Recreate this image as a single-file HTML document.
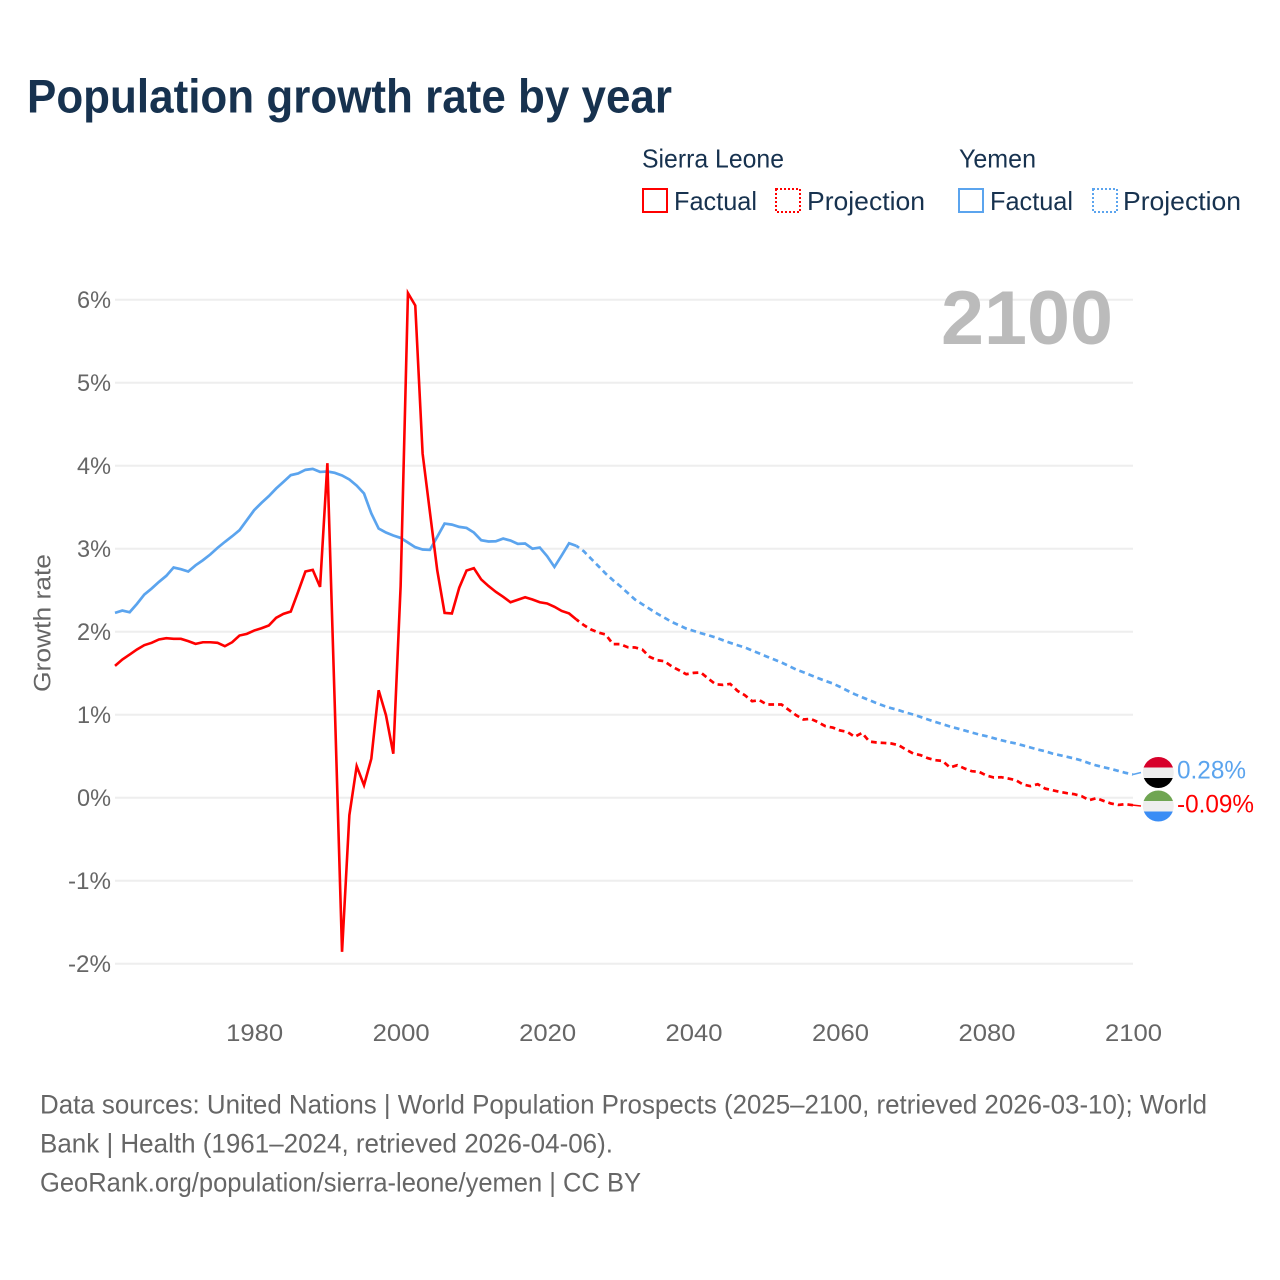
<!DOCTYPE html>
<html lang="en">
<head>
<meta charset="utf-8">
<title>Population growth rate by year</title>
<style>
html,body{margin:0;padding:0;background:#fff;}
svg{display:block;font-family:"Liberation Sans",sans-serif;}
</style>
</head>
<body>
<svg id="chart" width="1280" height="1280" viewBox="0 0 1280 1280" xmlns="http://www.w3.org/2000/svg">
  <defs>
    <clipPath id="clip-yemen"><circle cx="1158.3" cy="772.5" r="15.5"/></clipPath>
    <clipPath id="clip-sl"><circle cx="1158.3" cy="806" r="15.5"/></clipPath>
  </defs>
  <rect x="0" y="0" width="1280" height="1280" fill="#fff"/>
  <text x="27" y="112.5" font-size="47" font-weight="700" fill="#17324f" textLength="645" lengthAdjust="spacingAndGlyphs">Population growth rate by year</text>

  <g font-size="26" fill="#17324f">
    <text x="642" y="167.5" textLength="142" lengthAdjust="spacingAndGlyphs">Sierra Leone</text>
    <text x="959" y="167.5" textLength="77" lengthAdjust="spacingAndGlyphs">Yemen</text>
    <rect x="643" y="189" width="24" height="23" fill="none" stroke="#ff0000" stroke-width="2"/>
    <text x="674" y="210" textLength="83" lengthAdjust="spacingAndGlyphs">Factual</text>
    <rect x="776" y="189" width="24" height="23" fill="none" stroke="#ff0000" stroke-width="2" stroke-dasharray="2 2"/>
    <text x="807" y="210" textLength="118" lengthAdjust="spacingAndGlyphs">Projection</text>
    <rect x="959" y="189" width="24" height="23" fill="none" stroke="#5ba4ee" stroke-width="2"/>
    <text x="990" y="210" textLength="83" lengthAdjust="spacingAndGlyphs">Factual</text>
    <rect x="1093" y="189" width="24" height="23" fill="none" stroke="#5ba4ee" stroke-width="2" stroke-dasharray="2 2"/>
    <text x="1123" y="210" textLength="118" lengthAdjust="spacingAndGlyphs">Projection</text>
  </g>

  <g id="grid"></g>
  <g id="y-ticks" font-size="24" fill="#666"></g>
  <g id="x-ticks" font-size="24" fill="#666"></g>
  <text transform="translate(50.5,692) rotate(-90)" x="0" y="0" font-size="24" fill="#666" textLength="138" lengthAdjust="spacingAndGlyphs">Growth rate</text>

  <text x="1113" y="344" text-anchor="end" font-size="76" font-weight="700" fill="#bbbbbb" textLength="172" lengthAdjust="spacingAndGlyphs">2100</text>

  <g id="series"></g>

  <g clip-path="url(#clip-yemen)">
    <rect x="1142" y="757" width="33" height="11" fill="#d7002a"/>
    <rect x="1142" y="767.5" width="33" height="10.5" fill="#eeeeee"/>
    <rect x="1142" y="778" width="33" height="11" fill="#000000"/>
  </g>
  <g clip-path="url(#clip-sl)">
    <rect x="1142" y="790" width="33" height="11" fill="#6fa552"/>
    <rect x="1142" y="801" width="33" height="10.5" fill="#eeeeee"/>
    <rect x="1142" y="811.5" width="33" height="11" fill="#3a8df5"/>
  </g>
  <text x="1177" y="778.5" font-size="25" fill="#5ba4ee" textLength="69" lengthAdjust="spacingAndGlyphs">0.28%</text>
  <text x="1177" y="812.5" font-size="25" fill="#ff0000" textLength="77" lengthAdjust="spacingAndGlyphs">-0.09%</text>

  <g font-size="27" fill="#666">
    <text x="40" y="1113.5" textLength="1167" lengthAdjust="spacingAndGlyphs">Data sources: United Nations | World Population Prospects (2025–2100, retrieved 2026-03-10); World</text>
    <text x="40" y="1152.5" textLength="573" lengthAdjust="spacingAndGlyphs">Bank | Health (1961–2024, retrieved 2026-04-06).</text>
    <text x="40" y="1191.5" textLength="601" lengthAdjust="spacingAndGlyphs">GeoRank.org/population/sierra-leone/yemen | CC BY</text>
  </g>
</svg>
<script>
const factualStartYear = 1961;
const projectionStartYear = 2024;
const yTickValues = [6, 5, 4, 3, 2, 1, 0, -1, -2];
const yTickLabels = ["6%", "5%", "4%", "3%", "2%", "1%", "0%", "-1%", "-2%"];
const xTickYears = [1980, 2000, 2020, 2040, 2060, 2080, 2100];
const xTickLabels = ["1980", "2000", "2020", "2040", "2060", "2080", "2100"];

const sierraLeoneFactual = [
  1.588, 1.665, 1.725, 1.786, 1.838, 1.866, 1.906, 1.922, 1.914, 1.914,
  1.886, 1.853, 1.873, 1.873, 1.866, 1.825, 1.873, 1.954, 1.974, 2.014,
  2.042, 2.075, 2.167, 2.215, 2.243, 2.48, 2.725, 2.745, 2.54, 4.03,
  1.14, -1.857, -0.21, 0.38, 0.15, 0.47, 1.295, 0.994, 0.53, 2.55,
  6.08, 5.93, 4.147, 3.44, 2.74, 2.227, 2.22, 2.53, 2.737, 2.765,
  2.63, 2.55, 2.48, 2.42, 2.355, 2.385, 2.415, 2.388, 2.355, 2.34,
  2.30, 2.25, 2.22, 2.147
];
const yemenFactual = [
  2.227, 2.255, 2.235, 2.335, 2.448, 2.52, 2.6, 2.673, 2.773, 2.753,
  2.725, 2.80, 2.861, 2.93, 3.01, 3.082, 3.15, 3.223, 3.343, 3.464,
  3.552, 3.633, 3.725, 3.805, 3.886, 3.906, 3.95, 3.962, 3.925, 3.93,
  3.914, 3.882, 3.834, 3.76, 3.665, 3.424, 3.243, 3.195, 3.159, 3.13,
  3.074, 3.018, 2.99, 2.986, 3.143, 3.303, 3.29, 3.263, 3.25, 3.195,
  3.102, 3.087, 3.09, 3.122, 3.098, 3.058, 3.062, 3.00, 3.014, 2.91,
  2.78, 2.92, 3.066, 3.034
];
const sierraLeoneProjection = [
  2.147, 2.08, 2.026, 1.99, 1.966, 1.85, 1.85, 1.813, 1.81, 1.785,
  1.697, 1.657, 1.645, 1.584, 1.536, 1.488, 1.504, 1.508, 1.436, 1.367,
  1.359, 1.371, 1.287, 1.235, 1.163, 1.175, 1.123, 1.123, 1.123, 1.058,
  0.994, 0.942, 0.95, 0.91, 0.861, 0.845, 0.81, 0.793, 0.733, 0.78,
  0.677, 0.665, 0.66, 0.653, 0.633, 0.58, 0.532, 0.512, 0.476, 0.452,
  0.443, 0.364, 0.392, 0.352, 0.319, 0.311, 0.267, 0.243, 0.247, 0.231,
  0.211, 0.159, 0.139, 0.163, 0.11, 0.09, 0.07, 0.054, 0.042, 0.018,
  -0.03, -0.006, -0.039, -0.07, -0.087, -0.078, -0.09
];
const yemenProjection = [
  3.034, 2.97, 2.88, 2.79, 2.70, 2.62, 2.548, 2.468, 2.388, 2.331,
  2.275, 2.219, 2.17, 2.118, 2.078, 2.038, 2.01, 1.982, 1.958, 1.93,
  1.898, 1.866, 1.837, 1.81, 1.773, 1.737, 1.70, 1.665, 1.629, 1.588,
  1.544, 1.512, 1.476, 1.44, 1.407, 1.376, 1.335, 1.29, 1.247, 1.21,
  1.175, 1.139, 1.106, 1.078, 1.054, 1.026, 1.002, 0.973, 0.942, 0.913,
  0.886, 0.858, 0.834, 0.81, 0.785, 0.761, 0.741, 0.717, 0.693, 0.672,
  0.653, 0.629, 0.605, 0.58, 0.56, 0.532, 0.512, 0.492, 0.472, 0.448,
  0.416, 0.388, 0.367, 0.347, 0.323, 0.299, 0.28
];

const NS = "http://www.w3.org/2000/svg";
function xScale(year) { return 115 + (year - 1961) * (1018 / 139); }
function yScale(value) { return 797.7 - value * 83; }
function linePath(startYear, values) {
  return values.map(function (v, i) {
    return (i ? "L" : "M") + xScale(startYear + i).toFixed(2) + " " + yScale(v).toFixed(2);
  }).join(" ");
}

const gridGroup = document.getElementById("grid");
const yTickGroup = document.getElementById("y-ticks");
yTickValues.forEach(function (v, i) {
  const line = document.createElementNS(NS, "line");
  
  
  line.setAttribute("x1", xScale(1961));
  line.setAttribute("x2", xScale(2100));
  line.setAttribute("y1", yScale(v));
  line.setAttribute("y2", yScale(v));
  line.setAttribute("stroke", "#eeeeee");
  line.setAttribute("stroke-width", "2");
  gridGroup.appendChild(line);

  const label = document.createElementNS(NS, "text");
  
  
  label.setAttribute("x", 111);
  label.setAttribute("y", yScale(v) + 8.5);
  label.setAttribute("text-anchor", "end");
  label.setAttribute("textLength", v < 0 ? 43 : 34);
  label.setAttribute("lengthAdjust", "spacingAndGlyphs");
  label.textContent = yTickLabels[i];
  yTickGroup.appendChild(label);
});

const xTickGroup = document.getElementById("x-ticks");
xTickYears.forEach(function (year, i) {
  const label = document.createElementNS(NS, "text");
  
  
  label.setAttribute("x", xScale(year) + 0.5);
  label.setAttribute("y", 1041);
  label.setAttribute("text-anchor", "middle");
  label.setAttribute("textLength", 57);
  label.setAttribute("lengthAdjust", "spacingAndGlyphs");
  label.textContent = xTickLabels[i];
  xTickGroup.appendChild(label);
});

const seriesGroup = document.getElementById("series");
function addSeries(name, startYear, values, color, width, dashed) {
  const path = document.createElementNS(NS, "path");
  
  
  path.setAttribute("d", linePath(startYear, values));
  path.setAttribute("fill", "none");
  path.setAttribute("stroke", color);
  path.setAttribute("stroke-width", width);
  path.setAttribute("stroke-linejoin", "miter");
  if (dashed) {
    path.setAttribute("stroke-dasharray", "5.7 4");
    path.setAttribute("stroke-dashoffset", "2.4");
  }
  seriesGroup.appendChild(path);
}
function addLeader(name, value, yEnd, color) {
  const leader = document.createElementNS(NS, "line");
  
  
  leader.setAttribute("x1", xScale(2100));
  leader.setAttribute("y1", yScale(value));
  leader.setAttribute("x2", 1141);
  leader.setAttribute("y2", yEnd);
  leader.setAttribute("stroke", color);
  leader.setAttribute("stroke-width", "1.5");
  seriesGroup.appendChild(leader);
}
addSeries("line-yemen-factual", factualStartYear, yemenFactual, "#5ba4ee", 2.7, false);
addSeries("line-yemen-projection", projectionStartYear, yemenProjection, "#5ba4ee", 2.7, true);
addSeries("line-sierra-leone-factual", factualStartYear, sierraLeoneFactual, "#ff0000", 2.6, false);
addSeries("line-sierra-leone-projection", projectionStartYear, sierraLeoneProjection, "#ff0000", 2.7, true);
addLeader("leader-yemen", yemenProjection[yemenProjection.length - 1], 772.5, "#5ba4ee");
addLeader("leader-sierra-leone", sierraLeoneProjection[sierraLeoneProjection.length - 1], 806, "#ff0000");
</script>
</body>
</html>
